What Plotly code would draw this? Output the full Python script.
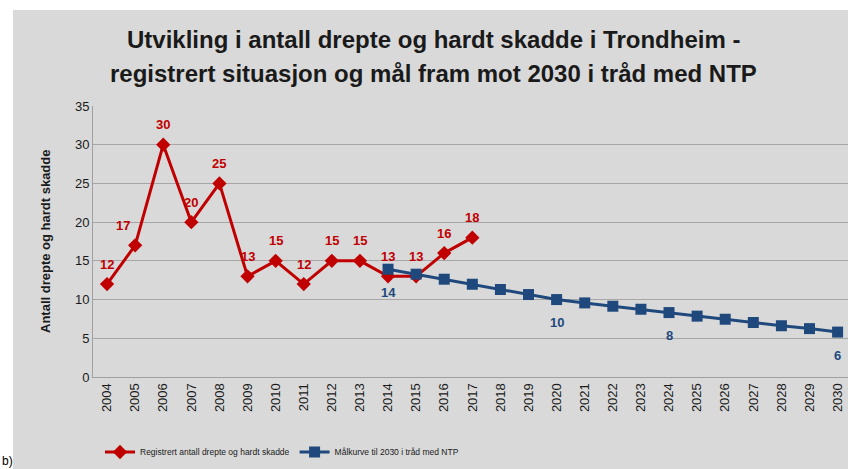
import plotly.graph_objects as go

years = list(range(2004, 2031))
reg_years = list(range(2004, 2018))
reg_values = [12, 17, 30, 20, 25, 13, 15, 12, 15, 15, 13, 13, 16, 18]
goal_years = list(range(2014, 2031))
goal_values = [13.92, 13.28, 12.63, 11.98, 11.3, 10.65, 10.0, 9.57, 9.14, 8.75, 8.32,
               7.86, 7.46, 7.04, 6.62, 6.25, 5.8]
goal_label_years = [2014, 2020, 2024, 2030]
goal_label_texts = ["14", "10", "8", "6"]

title1 = "Utvikling i antall drepte og hardt skadde i Trondheim -"
title2 = "registrert situasjon og mål fram mot 2030 i tråd med NTP"
ytitle = "Antall drepte og hardt skadde"
name_reg = "Registrert antall drepte og hardt skadde"
name_goal = "Målkurve til 2030 i tråd med NTP"

RED = "#c00000"
BLUE = "#1f497d"
GRAY = "#d9d9d9"
FONT = "Liberation Sans, sans-serif"

W, H = 848, 469
L, R, T, B = 93, 848, 106, 377

def px(x):
    return (x - L) / (R - L)

def py(y):
    return (B - y) / (B - T)

fig = go.Figure()
fig.add_trace(go.Scatter(
    x=reg_years, y=reg_values, name=name_reg, mode="lines+markers",
    line=dict(color=RED, width=3),
    marker=dict(symbol="diamond", size=11, color=RED),
))
fig.add_trace(go.Scatter(
    x=goal_years, y=goal_values, name=name_goal, mode="lines+markers",
    line=dict(color=BLUE, width=3),
    marker=dict(symbol="square", size=11, color=BLUE),
))

annotations = []
for yr, v in zip(reg_years, reg_values):
    xs = -12 if yr == 2005 else 0
    annotations.append(dict(x=yr, y=v, xref="x", yref="y", text=f"<b>{v}</b>",
                            showarrow=False, yshift=20, xshift=xs,
                            font=dict(family=FONT, size=13, color=RED)))
for yr, t in zip(goal_label_years, goal_label_texts):
    v = goal_values[goal_years.index(yr)]
    annotations.append(dict(x=yr, y=v, xref="x", yref="y", text=f"<b>{t}</b>",
                            showarrow=False, yshift=-23,
                            font=dict(family=FONT, size=13, color=BLUE)))

annotations.append(dict(x=px(433), y=py(40), xref="paper", yref="paper",
                        text=f"<b>{title1}</b>", showarrow=False,
                        xanchor="center", yanchor="middle",
                        font=dict(family=FONT, size=24, color="#1a1a1a")))
annotations.append(dict(x=px(433), y=py(73), xref="paper", yref="paper",
                        text=f"<b>{title2}</b>", showarrow=False,
                        xanchor="center", yanchor="middle",
                        font=dict(family=FONT, size=24, color="#1a1a1a")))
annotations.append(dict(x=px(45), y=py(242), xref="paper", yref="paper",
                        text=f"<b>{ytitle}</b>", showarrow=False, textangle=-90,
                        xanchor="center", yanchor="middle",
                        font=dict(family=FONT, size=13, color="#1a1a1a")))
annotations.append(dict(x=px(0), y=py(461), xref="paper", yref="paper",
                        text="b)", showarrow=False, xanchor="left", yanchor="middle",
                        font=dict(family=FONT, size=12, color="#000000")))

shapes = [
    dict(type="rect", xref="paper", yref="paper", x0=px(0), x1=px(13),
         y0=py(H), y1=py(0), fillcolor="white", line=dict(width=0), layer="below"),
    dict(type="rect", xref="paper", yref="paper", x0=px(0), x1=px(W),
         y0=py(10), y1=py(0), fillcolor="white", line=dict(width=0), layer="below"),
]

fig.update_layout(
    width=W, height=H,
    margin=dict(l=L, r=W - R, t=T, b=H - B),
    paper_bgcolor=GRAY, plot_bgcolor=GRAY,
    showlegend=True,
    legend=dict(orientation="h", x=px(100), y=py(452), xanchor="left", yanchor="middle",
                bgcolor="rgba(0,0,0,0)", font=dict(family=FONT, size=8.5, color="#1a1a1a"),
                itemwidth=30, tracegroupgap=0),
    annotations=annotations,
    shapes=shapes,
)
fig.update_xaxes(
    range=[2003.5, 2030.37], tickmode="array", tickvals=years,
    ticktext=[str(y) for y in years], tickangle=-90,
    tickfont=dict(family=FONT, size=13, color="#1a1a1a"),
    showgrid=False, showline=True, linecolor="#a0a0a0", linewidth=1,
    ticks="", zeroline=False,
)
fig.update_yaxes(
    range=[0, 35], dtick=5, tickfont=dict(family=FONT, size=13, color="#1a1a1a"),
    showgrid=True, gridcolor="#a6a6a6", gridwidth=1,
    showline=True, linecolor="#a0a0a0", linewidth=1, zeroline=False,
    ticks="", ticklen=0,
)

fig.write_html("out.html", config={"displayModeBar": False},
               post_script="document.body.style.margin='0';")
